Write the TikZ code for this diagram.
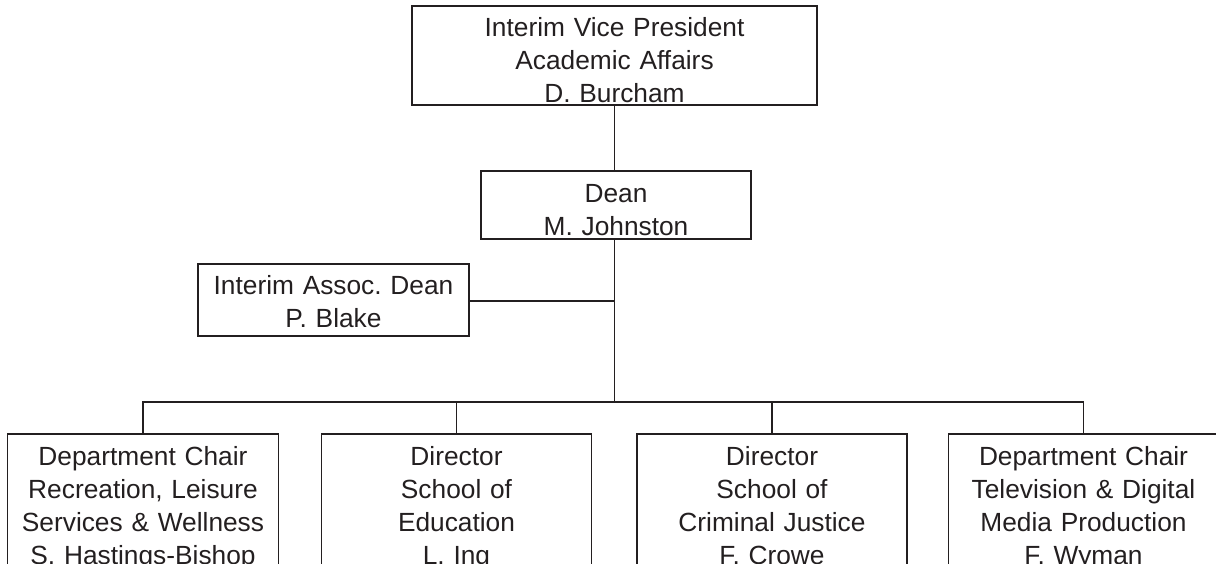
\documentclass[tikz,border=0pt]{standalone}
\usepackage{fontspec}
\setmainfont{Liberation Sans}
\frenchspacing
\definecolor{ink}{HTML}{231F20}
\begin{document}
\begin{tikzpicture}[x=1pt,y=-1pt,
  box/.style={draw=ink, text=ink, line width=1.6pt, inner sep=0pt, align=center, anchor=north,
    font=\fontsize{26.3}{33}\selectfont},
  link/.style={draw=ink, line width=1.6pt}]
\useasboundingbox (0,0) rectangle (1216,564);
\clip (0,0) rectangle (1216,564);
\node[box, text width=405pt, text height=31pt, text depth=68pt] (vp) at (614.5,5)
  {Interim Vice President\\Academic Affairs\\D. Burcham};
\node[box, text width=270pt, text height=32pt, text depth=36pt] (dean) at (616,170)
  {Dean\\M. Johnston};
\node[box, text width=271pt, text height=31pt, text depth=41pt] (assoc) at (333.5,263)
  {Interim Assoc. Dean\\P. Blake};
\node[box, text width=271pt, text height=32pt, text depth=140pt] (b1) at (143,433)
  {Department Chair\\Recreation, Leisure\\Services \& Wellness\\S. Hastings-Bishop};
\node[box, text width=270pt, text height=32pt, text depth=140pt] (b2) at (456.5,433)
  {Director\\School of\\Education\\L. Ing};
\node[box, text width=270pt, text height=32pt, text depth=140pt] (b3) at (772,433)
  {Director\\School of\\Criminal Justice\\F. Crowe};
\node[box, text width=270pt, text height=32pt, text depth=140pt] (b4) at (1083.5,433)
  {Department Chair\\Television \& Digital\\Media Production\\F. Wyman};
\coordinate (bus) at (614.5,402);
\coordinate (tee) at (614.5,301);
\draw[link] (vp.south) -- (vp.south |- dean.north);
\draw[link] (vp.south |- dean.south) -- (bus);
\draw[link] (assoc.east |- tee) -- (tee);
\draw[link] (b1.north) |- (bus) -| (b4.north);
\draw[link] (b2.north) -- (b2.north |- bus);
\draw[link] (b3.north) -- (b3.north |- bus);
\end{tikzpicture}
\end{document}
